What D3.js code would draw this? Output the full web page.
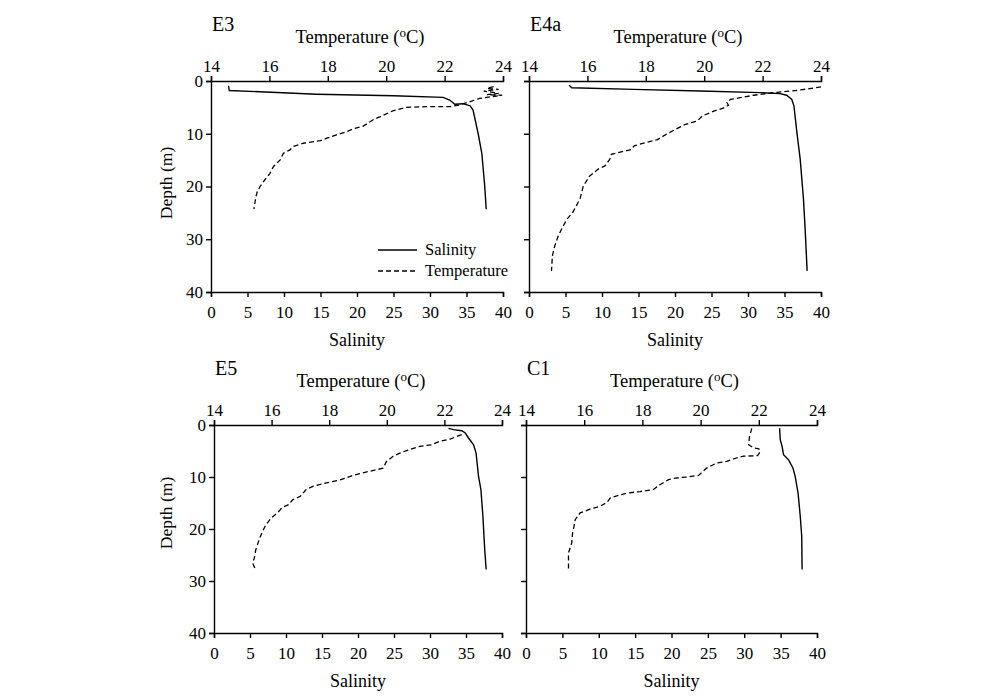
<!DOCTYPE html>
<html>
<head>
<meta charset="utf-8">
<script src="https://cdn.jsdelivr.net/npm/d3@7"></script>
<style>
  body { margin: 0; background: #fff; }
  svg { font-family: "Liberation Serif", "Times New Roman", serif; }
  .axis path, .axis line { stroke: #000; stroke-width: 1.4; }
  .axis text { font-size: 17px; fill: #000; font-family: "Liberation Serif", serif; }
  .sal { fill: none; stroke: #000; stroke-width: 1.4; }
  .temp { fill: none; stroke: #000; stroke-width: 1.3; stroke-dasharray: 5 3; }
</style>
</head>
<body>
<svg id="chart" width="999" height="700"></svg>
<script>
// profiles: [salinity, depth] and [temperature, depth]
const e3Sal = [[2.4, 0.9], [2.5, 1.8], [14.5, 2.5], [25, 2.8], [31.8, 3.1], [32.7, 3.6], [33.4, 4.4],
  [34.5, 4.3], [35.5, 4.7], [35.9, 5.5], [36.6, 10], [37.1, 13.7], [37.5, 20], [37.7, 24.3]];
const e3Temp = [[23.68, 1.07], [23.45, 1.4], [23.85, 1.58], [23.34, 1.9], [23.85, 2.33], [23.45, 2.6],
  [23.97, 2.7], [23.2, 3.3], [22.88, 3.9], [22.54, 4.5], [22.2, 4.86], [21.4, 4.86], [20.7, 5.0],
  [20.25, 5.6], [19.8, 6.75], [19.57, 7.3], [19.2, 8.6], [18.9, 9.0], [18.65, 9.6], [18.3, 10.2],
  [17.97, 10.85], [17.74, 11.3], [17.17, 11.8], [16.83, 12.4], [16.7, 13.06], [16.48, 13.7],
  [16.37, 14.95], [16.14, 16.2], [16.02, 17.5], [15.8, 19.05], [15.68, 20], [15.59, 20.9],
  [15.54, 21.9], [15.5, 23.2], [15.47, 24.3]];

const e4aSal = [[5.5, 0.8], [5.85, 1.27], [14.3, 1.58], [23.45, 1.9], [31.7, 2.2], [34.4, 2.4],
  [35.3, 2.7], [36.0, 3.5], [36.3, 4.75], [36.7, 9.8], [37.15, 14.8], [37.6, 22.4], [37.85, 28.7], [38.1, 36.0]];
const e4aTemp = [[24.0, 1.1], [23.3, 1.7], [22.4, 2.2], [21.7, 2.7], [21.23, 3.16], [20.9, 3.5],
  [20.78, 4.1], [20.83, 4.6], [20.67, 5.1], [20.33, 5.7], [19.93, 6.65], [19.76, 7.6], [19.36, 8.2],
  [19.0, 9.2], [18.7, 10.1], [18.4, 11.1], [17.97, 11.7], [17.6, 12.3], [17.5, 13.0], [17.27, 13.3],
  [16.82, 13.9], [16.77, 14.8], [16.6, 16.1], [16.37, 16.7], [16.08, 18.0], [15.86, 19.9],
  [15.75, 22.3], [15.5, 24.9], [15.3, 26.2], [15.17, 27.5], [15.0, 29.4], [14.88, 31.3],
  [14.8, 33.2], [14.77, 36.0]];

const e5Sal = [[32.56, 0.64], [33.26, 0.9], [34.4, 1.1], [34.9, 1.54], [35.35, 2.5], [36.05, 3.8],
  [36.4, 5.4], [36.74, 9.9], [37.07, 12.4], [37.35, 17.6], [37.6, 24.0], [37.8, 27.8]];
const e5Temp = [[22.6, 1.85], [22.2, 2.7], [21.85, 3.1], [21.56, 3.8], [21.15, 4.1], [20.8, 4.7],
  [20.45, 5.4], [20.22, 6.0], [19.99, 7.0], [19.87, 8.3], [19.64, 8.6], [19.17, 9.2], [18.83, 9.7],
  [18.36, 10.6], [17.9, 11.15], [17.43, 11.8], [17.2, 12.4], [17.0, 13.7], [16.73, 14.4],
  [16.6, 15.3], [16.38, 15.8], [16.2, 16.9], [15.98, 17.9], [15.8, 19.2], [15.69, 20.4],
  [15.57, 22.0], [15.45, 24.0], [15.4, 25.6], [15.34, 26.5], [15.43, 27.7]];

const c1Sal = [[34.86, 0.64], [34.95, 2.8], [35.2, 4.1], [35.4, 5.7], [36.1, 6.7], [36.7, 8.3],
  [37.0, 9.9], [37.4, 13.1], [37.7, 17.6], [37.9, 21.4], [37.95, 27.8]];
const c1Temp = [[21.76, 0.64], [21.68, 2.2], [21.65, 3.8], [21.82, 4.4], [22.0, 4.6], [22.05, 5.1],
  [21.96, 5.9], [21.48, 6.0], [21.25, 6.3], [20.9, 7.0], [20.56, 7.3], [20.2, 8.3], [19.93, 9.7],
  [19.53, 10.0], [19.13, 10.2], [18.9, 10.5], [18.6, 11.5], [18.38, 12.4], [17.92, 12.8],
  [17.46, 13.1], [16.9, 14.0], [16.78, 14.9], [16.55, 15.6], [16.2, 16.2], [15.86, 16.9],
  [15.69, 18.2], [15.65, 19.5], [15.6, 20.8], [15.57, 22.7], [15.46, 24.6], [15.46, 27.8]];

const salTicks = [0, 5, 10, 15, 20, 25, 30, 35, 40];
const tempTicks = [14, 16, 18, 20, 22, 24];
const depthTicks = [0, 10, 20, 30, 40];
const legendLabels = ['Salinity', 'Temperature'];

const panels = [
  { name: 'E3', sal: e3Sal, temp: e3Temp, x0: 211, x1: 503, y0: 81, y1: 292, depthY: 183, legend: true },
  { name: 'E4a', sal: e4aSal, temp: e4aTemp, x0: 529, x1: 821, y0: 81, y1: 292 },
  { name: 'E5', sal: e5Sal, temp: e5Temp, x0: 214, x1: 502, y0: 425, y1: 633, depthY: 513 },
  { name: 'C1', sal: c1Sal, temp: c1Temp, x0: 526, x1: 817, y0: 425, y1: 633 }
];

const svg = d3.select('#chart');

panels.forEach((p) => {
  const g = svg.append('g');
  const xs = d3.scaleLinear().domain([0, 40]).range([p.x0, p.x1]);
  const xt = d3.scaleLinear().domain([14, 24]).range([p.x0, p.x1]);
  const y = d3.scaleLinear().domain([0, 40]).range([p.y0, p.y1]);

  g.append('g').attr('class', 'axis').attr('transform', `translate(0,${p.y1})`)
    .call(d3.axisBottom(xs).tickValues(salTicks).tickSizeOuter(0).tickSize(5).tickPadding(9));
  g.append('g').attr('class', 'axis').attr('transform', `translate(0,${p.y0})`)
    .call(d3.axisTop(xt).tickValues(tempTicks).tickSizeOuter(0).tickSize(5).tickPadding(4));
  const ya = g.append('g').attr('class', 'axis').attr('transform', `translate(${p.x0},0)`)
    .call(d3.axisLeft(y).tickValues(depthTicks).tickSizeOuter(0).tickSize(5).tickPadding(3));
  if (!p.depthY) ya.selectAll('text').remove();
  g.selectAll('.axis').attr('font-family', null).attr('font-size', null);

  const line = d3.line().x((d) => xs(d[0])).y((d) => y(d[1]));
  const tline = d3.line().x((d) => xt(d[0])).y((d) => y(d[1]));
  g.append('path').datum(p.sal).attr('class', 'sal').attr('d', line);
  g.append('path').datum(p.temp).attr('class', 'temp').attr('d', tline);

  // labels
  g.append('text').attr('x', p.x0 + 1).attr('y', p.y0 - 50).attr('font-size', 20).text(p.name);
  const tt = g.append('text').attr('x', (p.x0 + p.x1) / 2 + 3).attr('y', p.y0 - 38)
    .attr('text-anchor', 'middle').attr('font-size', 18.5);
  tt.append('tspan').text('Temperature (');
  tt.append('tspan').attr('font-size', 13).attr('dy', -6).text('o');
  tt.append('tspan').attr('dy', 6).text('C)');
  g.append('text').attr('x', (p.x0 + p.x1) / 2).attr('y', p.y1 + 54)
    .attr('text-anchor', 'middle').attr('font-size', 18).text('Salinity');
  if (p.depthY) {
    g.append('text').attr('transform', `translate(172,${p.depthY}) rotate(-90)`)
      .attr('text-anchor', 'middle').attr('font-size', 17.5).text('Depth (m)');
  }

  if (p.legend) {
    const lg = g.append('g').attr('transform', `translate(${p.x0 + 167},${p.y1 - 42})`);
    legendLabels.forEach((lab, i) => {
      lg.append('line').attr('x1', 0).attr('x2', 39).attr('y1', i * 21).attr('y2', i * 21)
        .attr('class', i === 0 ? 'sal' : 'temp');
      lg.append('text').attr('x', 47).attr('y', i * 21 + 5).attr('font-size', 16.5).text(lab);
    });
  }
});
</script>
</body>
</html>
